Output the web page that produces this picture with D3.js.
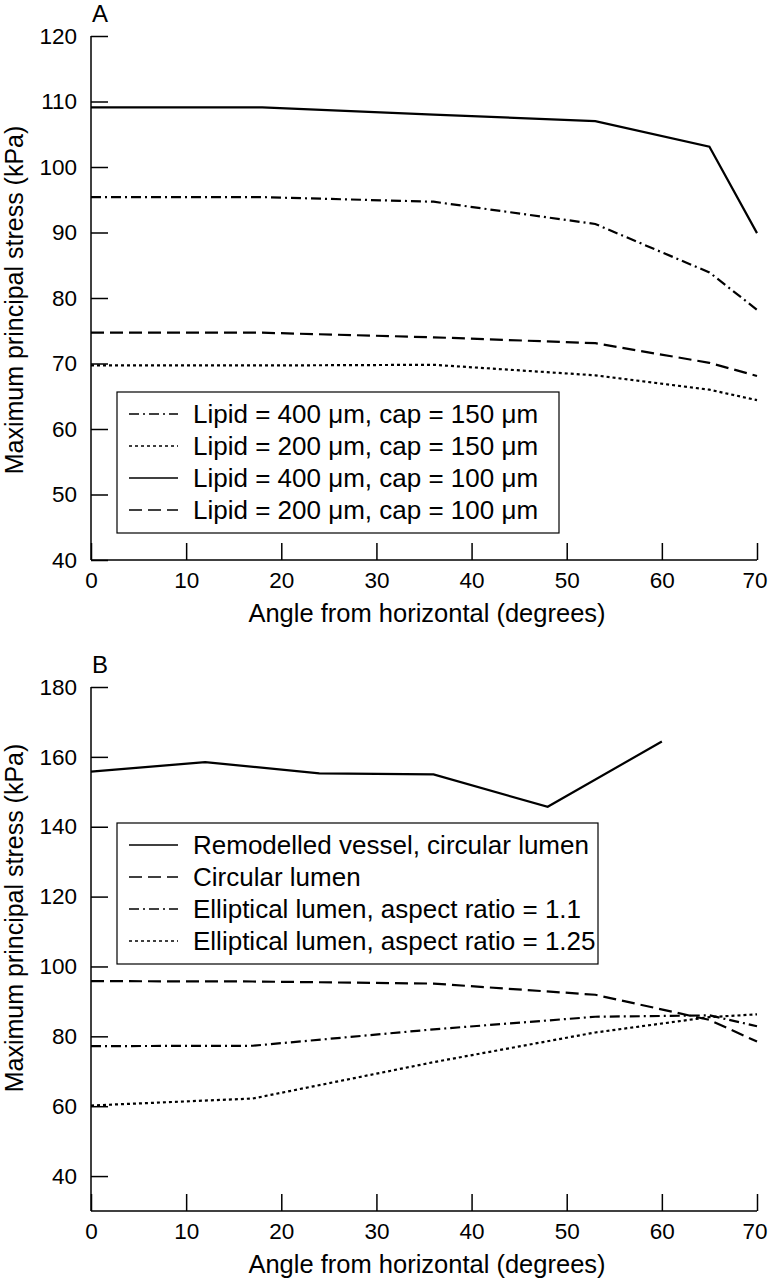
<!DOCTYPE html>
<html>
<head>
<meta charset="utf-8">
<script src="https://cdn.jsdelivr.net/npm/d3@7"></script>
<style>
  body { margin: 0; background: #fff; }
  svg { display: block; font-family: "Liberation Sans", Arial, Helvetica, sans-serif; }
</style>
</head>
<body>
<svg width="768" height="1280"></svg>
<script>
// ---- данные, панель A ----
const anglesA = [0, 18, 36, 53, 65, 70];
const lipid400cap150 = [95.4, 95.4, 94.7, 91.3, 83.9, 78.2];
const lipid200cap150 = [69.7, 69.7, 69.8, 68.2, 66.0, 64.4];
const lipid400cap100 = [109.1, 109.1, 108.0, 107.0, 103.1, 89.9];
const lipid200cap100 = [74.7, 74.7, 74.0, 73.1, 70.1, 68.1];
const labelsA = [
  "Lipid = 400 \u03bcm, cap = 150 \u03bcm",
  "Lipid = 200 \u03bcm, cap = 150 \u03bcm",
  "Lipid = 400 \u03bcm, cap = 100 \u03bcm",
  "Lipid = 200 \u03bcm, cap = 100 \u03bcm"
];

// ---- данные, панель B ----
const anglesRemodelled = [0, 12, 24, 36, 48, 60];
const remodelled = [155.8, 158.5, 155.3, 155.0, 145.7, 164.4];
const anglesB = [0, 17, 36, 53, 65, 70];
const circular = [95.8, 95.7, 95.1, 91.9, 84.7, 78.5];
const elliptical110 = [77.2, 77.3, 82.0, 85.6, 86.0, 82.9];
const elliptical125 = [60.2, 62.2, 72.6, 81.1, 85.5, 86.3];
const labelsB = [
  "Remodelled vessel, circular lumen",
  "Circular lumen",
  "Elliptical lumen, aspect ratio = 1.1",
  "Elliptical lumen, aspect ratio = 1.25"
];

// подписи делений
const ticksX = [0, 10, 20, 30, 40, 50, 60, 70];
const ticksYA = [40, 50, 60, 70, 80, 90, 100, 110, 120];
const ticksYB = [40, 60, 80, 100, 120, 140, 160, 180];

const dashes = {
  solid: null,
  dashed: "13,6",
  dashdot: "10,4,2,4",
  dotted: "3,3"
};

const svg = d3.select("svg");

function drawPanel(cfg) {
  const scX = d3.scaleLinear().domain([0, 70]).range([91, 757]);
  const scY = d3.scaleLinear().domain(cfg.domainY).range([cfg.bottom, cfg.top]);

  // оси, деления внутрь
  const axisX = d3.axisBottom(scX).tickValues(ticksX).tickSizeInner(-17)
                  .tickSizeOuter(0).tickPadding(12);
  const axisY = d3.axisLeft(scY).tickValues(cfg.ticksY).tickSizeInner(-17)
                  .tickSizeOuter(0).tickPadding(14);

  const gx = svg.append("g")
      .attr("transform", `translate(0, ${cfg.bottom})`)
      .call(axisX);
  const gy = svg.append("g")
      .attr("transform", "translate(91, 0)")
      .call(axisY);

  [gx, gy].forEach(g => {
    g.attr("font-family", null).attr("font-size", null);
    g.selectAll("path, line").attr("stroke", "#000").attr("stroke-width", 1.5);
    g.selectAll("text").attr("fill", "#000").style("font-size", "22.5px");
  });
  // последняя подпись у края - прижимаем вправо, чтобы не обрезалась
  gx.selectAll(".tick text").filter(d => d === 70)
      .attr("text-anchor", "end").attr("x", 10);

  gx.select(".domain").attr("d", `M91,0H757`);
  gy.select(".domain").attr("d", `M0,${cfg.top}V${cfg.bottom}`);

  // подписи осей
  svg.append("text")
      .attr("x", (91 + 757) / 2 + 3)
      .attr("y", cfg.bottom + 62)
      .attr("text-anchor", "middle")
      .style("font-size", "25.5px")
      .text("Angle from horizontal (degrees)");

  svg.append("text")
      .attr("transform", `translate(23, ${cfg.titleY}) rotate(-90)`)
      .attr("text-anchor", "middle")
      .style("font-size", "25px")
      .text("Maximum principal stress (kPa)");

  svg.append("text")
      .attr("x", 92)
      .attr("y", cfg.top - 14)
      .style("font-size", "24px")
      .text(cfg.letter);

  // линии
  const line = d3.line()
      .x(d => scX(d[0]))
      .y(d => scY(d[1]));

  cfg.series.forEach(s => {
    const pts = s.x.map((x, i) => [x, s.y[i]]);
    svg.append("path")
        .attr("d", line(pts))
        .attr("fill", "none")
        .attr("stroke", "#000")
        .attr("stroke-width", 2.2)
        .attr("stroke-dasharray", dashes[s.style]);
  });

  // легенда
  const lg = cfg.legend;
  svg.append("rect")
      .attr("x", lg.x).attr("y", lg.y)
      .attr("width", lg.w).attr("height", lg.h)
      .attr("fill", "#fff")
      .attr("stroke", "#000")
      .attr("stroke-width", 1.2);

  lg.order.forEach((k, i) => {
    const s = cfg.series[k];
    const yy = lg.y + 22 + i * 32;
    svg.append("line")
        .attr("x1", lg.x + 12).attr("x2", lg.x + 61)
        .attr("y1", yy).attr("y2", yy)
        .attr("stroke", "#000")
        .attr("stroke-width", 1.5)
        .attr("stroke-dasharray", dashes[s.style]);
    svg.append("text")
        .attr("x", lg.x + 76)
        .attr("y", yy)
        .attr("dy", "0.36em")
        .style("font-size", "26px")
        .text(s.label);
  });
}

drawPanel({
  letter: "A",
  domainY: [40, 120],
  top: 36,
  bottom: 560,
  ticksY: ticksYA,
  titleY: 300,
  series: [
    { x: anglesA, y: lipid400cap150, style: "dashdot", label: labelsA[0] },
    { x: anglesA, y: lipid200cap150, style: "dotted", label: labelsA[1] },
    { x: anglesA, y: lipid400cap100, style: "solid", label: labelsA[2] },
    { x: anglesA, y: lipid200cap100, style: "dashed", label: labelsA[3] }
  ],
  legend: { x: 117, y: 392, w: 442, h: 141, order: [0, 1, 2, 3] }
});

drawPanel({
  letter: "B",
  domainY: [30, 180],
  top: 687,
  bottom: 1211,
  ticksY: ticksYB,
  titleY: 918,
  series: [
    { x: anglesRemodelled, y: remodelled, style: "solid", label: labelsB[0] },
    { x: anglesB, y: circular, style: "dashed", label: labelsB[1] },
    { x: anglesB, y: elliptical110, style: "dashdot", label: labelsB[2] },
    { x: anglesB, y: elliptical125, style: "dotted", label: labelsB[3] }
  ],
  legend: { x: 117, y: 823, w: 481, h: 141, order: [0, 1, 2, 3] }
});
</script>
</body>
</html>
